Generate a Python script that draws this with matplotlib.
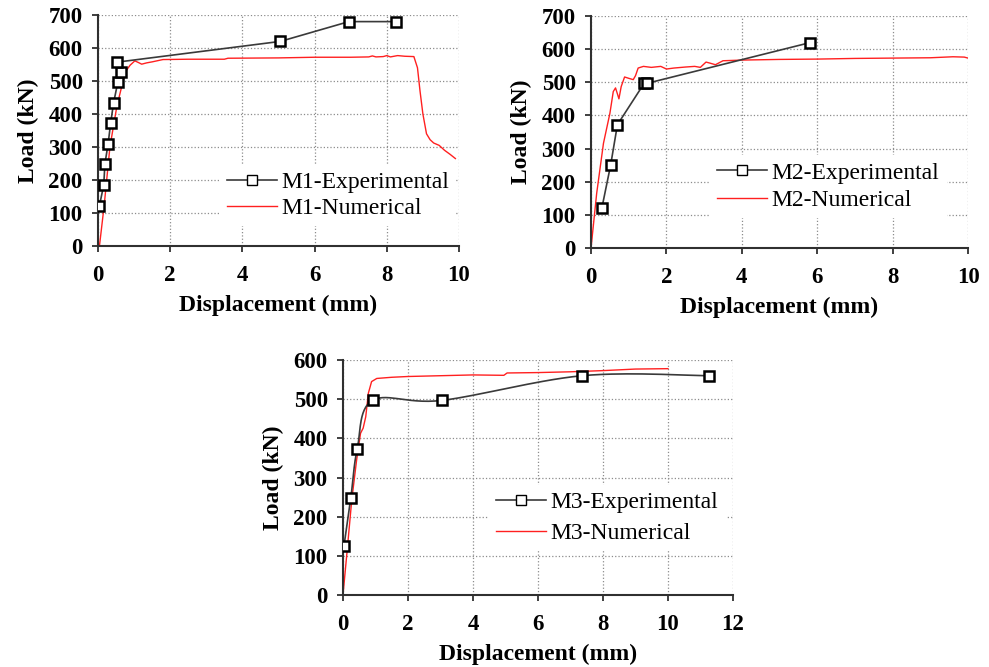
import numpy as np
import matplotlib.pyplot as plt

plt.rcParams['font.family'] = ['Liberation Serif', 'DejaVu Serif']

# M1 test results and FE curve
m1_exp_x = [0.04, 0.16, 0.19, 0.28, 0.35, 0.43, 0.55, 0.63, 0.52, 5.05, 6.95, 8.25]
m1_exp_y = [122, 186, 248, 310, 372, 433, 497, 527, 557, 620, 680, 680]
m1_num_x = [0.0, 0.04, 0.17, 0.33, 0.52, 0.70, 0.79, 0.89, 1.02, 1.12, 1.21, 1.35, 1.5, 1.8,
            2.5, 3.5, 3.6, 5.0, 6.0, 7.0, 7.5, 7.6, 7.7, 7.9, 8.0, 8.1, 8.3, 8.5, 8.75,
            8.85, 8.92, 9.0, 9.05, 9.1, 9.2, 9.3, 9.45, 9.6, 9.75, 9.9]
m1_num_y = [0, 0, 122, 300, 422, 503, 533, 548, 561, 556, 551, 555, 558, 565,
            566, 566, 569, 570, 572, 572, 573, 576, 573, 574, 577, 573, 577, 575, 574,
            540, 470, 400, 370, 340, 322, 312, 305, 290, 278, 265]

# M2
m2_exp_x = [0.29, 0.52, 0.70, 1.41, 1.49, 5.82]
m2_exp_y = [122, 250, 372, 497, 497, 620]
m2_num_x = [0.0, 0.15, 0.33, 0.50, 0.59, 0.65, 0.70, 0.74, 0.80, 0.89, 1.0, 1.12, 1.18,
            1.25, 1.39, 1.6, 1.85, 2.0, 2.2, 2.5, 2.75, 2.9, 3.05, 3.15, 3.3, 3.5,
            4.0, 5.0, 6.0, 7.0, 8.0, 9.0, 9.6, 9.9, 10.0]
m2_num_y = [0, 165, 316, 406, 472, 483, 465, 450, 487, 516, 512, 508, 520,
            543, 548, 545, 548, 540, 543, 546, 548, 545, 561, 558, 553, 565,
            567, 569, 570, 572, 573, 574, 577, 576, 573]

# M3
m3_exp_x = [0.03, 0.24, 0.44, 0.91, 3.05, 7.36, 11.27]
m3_exp_y = [125, 247, 374, 497, 497, 560, 560]
m3_num_x = [0.0, 0.13, 0.27, 0.42, 0.54, 0.62, 0.70, 0.78, 0.88, 1.04, 1.5, 2.0, 3.0, 4.0,
            4.95, 5.05, 6.0, 7.0, 8.0, 9.0, 10.0]
m3_num_y = [0, 115, 243, 345, 413, 426, 455, 515, 545, 553, 556, 558, 560, 562,
            561, 567, 568, 570, 573, 577, 578]

EXP_COLOR = '#3a3a3a'
NUM_COLOR = '#ff2020'


def smooth_curve(x, y, n=30):
    # Catmull-Rom style bezier through the points (spreadsheet "smoothed line")
    p = np.column_stack([x, y]).astype(float)
    out = [p[:1]]
    t = np.linspace(0, 1, n)[1:, None]
    for i in range(len(p) - 1):
        p0 = p[i - 1] if i > 0 else p[i]
        p1, p2 = p[i], p[i + 1]
        p3 = p[i + 2] if i + 2 < len(p) else p[i + 1]
        c1 = p1 + (p2 - p0) / 6
        c2 = p2 - (p3 - p1) / 6
        seg = ((1 - t) ** 3 * p1 + 3 * t * (1 - t) ** 2 * c1
               + 3 * t ** 2 * (1 - t) * c2 + t ** 3 * p2)
        out.append(seg)
    pts = np.vstack(out)
    return pts[:, 0], pts[:, 1]


def draw_panel(ax, name, ex, ey, nx, ny, xmax, ymax, legend_anchor, spacing,
               smooth=False):
    lx, ly = smooth_curve(ex, ey) if smooth else (ex, ey)
    ax.plot(lx, ly, color=EXP_COLOR, lw=1.2, zorder=3)
    ax.plot(ex, ey, ls='none', marker='s', ms=7.5, mfc='white', mec='black',
            mew=1.8, zorder=4)
    ax.plot(nx, ny, color=NUM_COLOR, lw=1.0, zorder=2)

    # legend proxies
    h1, = ax.plot([], [], color=EXP_COLOR, lw=1.2, marker='s', ms=7,
                  mfc='white', mec='black', mew=1.0)
    h2, = ax.plot([], [], color=NUM_COLOR, lw=1.0)
    leg = ax.legend([h1, h2], [f'{name}-Experimental', f'{name}-Numerical'],
                    loc='lower left', bbox_to_anchor=legend_anchor, fontsize=17,
                    numpoints=1, handlelength=2.1, handletextpad=0.2,
                    labelspacing=spacing, borderpad=0.3, framealpha=1,
                    fancybox=False)
    leg.get_frame().set_linewidth(0)

    ax.set_xlim(0, xmax)
    ax.set_ylim(0, ymax)
    ax.set_xticks(np.arange(0, xmax + 1, 2))
    ax.set_yticks(np.arange(0, ymax + 1, 100))
    ax.grid(True, ls=':', color='#8c8c8c', lw=0.9)
    ax.set_axisbelow(True)
    for s in ('top', 'right'):
        ax.spines[s].set_visible(False)
    for s in ('left', 'bottom'):
        ax.spines[s].set_color('#303030')
        ax.spines[s].set_linewidth(1.5)
    ax.tick_params(direction='out', length=4, width=1.3, color='#303030',
                   labelsize=16.5)
    ax.tick_params(axis='x', pad=10)
    ax.tick_params(axis='y', pad=7)
    for lab in ax.get_xticklabels() + ax.get_yticklabels():
        lab.set_fontweight('bold')
    ax.set_xlabel('Displacement (mm)', fontsize=17, fontweight='bold', labelpad=6)
    ax.set_ylabel('Load (kN)', fontsize=17, fontweight='bold', labelpad=7)


fig = plt.figure(figsize=(9.89, 6.67), dpi=100)
ax1 = fig.add_axes([0.0991, 0.6312, 0.365, 0.3463])
ax2 = fig.add_axes([0.5976, 0.6282, 0.3812, 0.3478])
ax3 = fig.add_axes([0.3468, 0.1079, 0.3943, 0.3523])

draw_panel(ax1, 'M1', m1_exp_x, m1_exp_y, m1_num_x, m1_num_y, 10, 700,
           (0.305, 0.035), 0.2)
draw_panel(ax2, 'M2', m2_exp_x, m2_exp_y, m2_num_x, m2_num_y, 10, 700,
           (0.285, 0.078), 0.25)
draw_panel(ax3, 'M3', m3_exp_x, m3_exp_y, m3_num_x, m3_num_y, 12, 600,
           (0.345, 0.136), 0.4, smooth=True)

fig.savefig('out.png', dpi=100)
